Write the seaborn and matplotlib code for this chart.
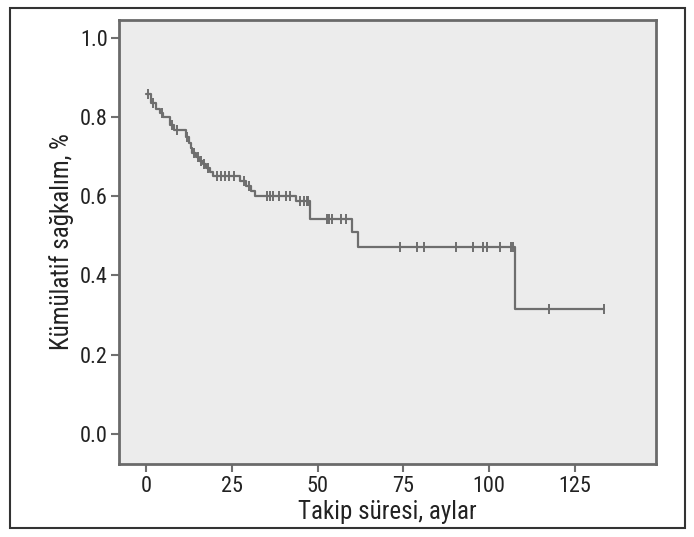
import numpy as np
import pandas as pd
import matplotlib
matplotlib.use("Agg")
import matplotlib.pyplot as plt
from matplotlib.patches import Rectangle
import seaborn as sns

# Kaplan-Meier steps (time in months, survival after step)
event_times = [0.0, 1.5, 3.0, 4.0, 5.0, 7.0, 8.0, 11.5, 12.5, 13.0, 13.5, 14.5,
               15.5, 16.5, 17.5, 18.5, 19.5, 27.5, 29.0, 30.5, 31.8, 43.8,
               47.7, 59.9, 61.9, 107.6]
event_surv = [0.857, 0.835, 0.82, 0.81, 0.80, 0.78, 0.768, 0.75, 0.735, 0.722,
              0.71, 0.70, 0.69, 0.68, 0.67, 0.66, 0.652, 0.638, 0.625, 0.613,
              0.60, 0.588, 0.543, 0.51, 0.472, 0.315]
end_time = 133.4

# censored observations
censor_times = [0.5, 2.0, 4.5, 7.5, 9.0, 12.0, 14.0, 15.0, 16.0, 17.0, 18.0,
                20.6, 21.8, 23.0, 24.3, 25.5, 28.5, 30.0, 35.1, 36.1, 37.1,
                38.8, 40.9, 41.9, 44.8, 45.9, 46.8, 47.3, 52.7, 53.4, 54.2,
                56.8, 58.2, 74.0, 79.0, 81.0, 90.2, 95.2, 98.3, 99.3, 103.1,
                106.3, 107.0, 117.4, 133.4]

x_ticks = [0, 25, 50, 75, 100, 125]
y_ticks = [0.0, 0.2, 0.4, 0.6, 0.8, 1.0]

curve = pd.DataFrame({"t": event_times + [end_time],
                      "s": event_surv + [event_surv[-1]]})
idx = np.searchsorted(event_times, censor_times, side="right") - 1
censors = pd.DataFrame({"t": censor_times, "s": np.array(event_surv)[idx]})

sns.set_style("ticks")
plt.rcParams["font.family"] = ["Roboto Condensed", "DejaVu Sans"]

line_col = "#6e6e6e"
fig = plt.figure(figsize=(6.94, 5.37), dpi=100)
ax = fig.add_axes([0.1715, 0.136, 0.7735, 0.827])
ax.set_facecolor("#ececec")

sns.lineplot(data=curve, x="t", y="s", drawstyle="steps-post", color=line_col,
             linewidth=1.6, ax=ax, estimator=None, sort=False)
sns.scatterplot(data=censors, x="t", y="s", marker="|", s=55, color=line_col,
                linewidth=1.4, ax=ax, zorder=3)

ax.set_xlim(-7.9, 148.6)
ax.set_ylim(-0.076, 1.045)
ax.set_xticks(x_ticks)
ax.set_xticklabels([str(v) for v in x_ticks])
ax.set_yticks(y_ticks)
ax.set_yticklabels([f"{v:.1f}" for v in y_ticks])
ax.tick_params(axis="both", labelsize=16, labelcolor="#222222", color="#707070",
               direction="out", length=6, width=1.5, bottom=True, left=True)
ax.tick_params(axis="x", pad=3)
ax.tick_params(axis="y", pad=2)
for sp in ax.spines.values():
    sp.set_color("#6a6a6a")
    sp.set_linewidth(2)

ax.set_xlabel("Takip süresi, aylar", fontsize=18, color="#222222", labelpad=2)
ax.set_ylabel("Kümülatif sağkalım, %", fontsize=18, color="#222222", labelpad=4)

fig.patches.append(Rectangle((10 / 694, 1 - 528 / 537), 675 / 694, 520 / 537,
                             transform=fig.transFigure, fill=False,
                             edgecolor="#333333", linewidth=1.5))

fig.savefig("out.png", dpi=100)
